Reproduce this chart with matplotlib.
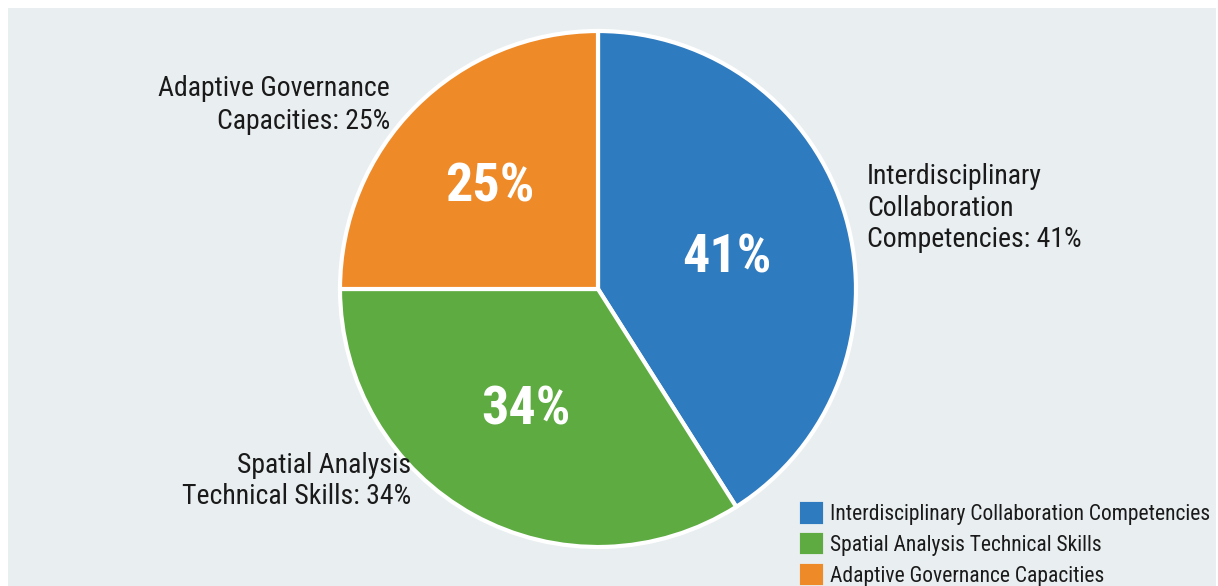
import matplotlib.pyplot as plt
from matplotlib.patches import Rectangle

categories = ['Interdisciplinary Collaboration Competencies',
              'Spatial Analysis Technical Skills',
              'Adaptive Governance Capacities']
outer_names = ['Interdisciplinary\nCollaboration\nCompetencies',
               'Spatial Analysis\nTechnical Skills',
               'Adaptive Governance\nCapacities']
values = [41, 34, 25]
colors = ['#2f7bbf', '#5dab41', '#ef8a28']

W, H = 1218, 586
fig = plt.figure(figsize=(W / 100, H / 100), dpi=100)
fig.patch.set_facecolor('white')

ax = fig.add_axes([0, 0, 1, 1])

font = ['Roboto Condensed', 'Liberation Sans']

wedges, _ = ax.pie(values, colors=colors, startangle=90, counterclock=False,
                   center=(598, H - 289), radius=258,
                   wedgeprops=dict(edgecolor='white', linewidth=3))

# pie() resets the limits, so set the pixel-like frame afterwards
ax.set_xlim(0, W)
ax.set_ylim(0, H)
ax.set_aspect('equal')
ax.axis('off')

# grey panel with a thin white border on top / left / right
ax.add_patch(Rectangle((8, 0), W - 10, H - 8, facecolor='#e9eef0',
                       edgecolor='none', zorder=0))

# percentages inside the wedges
inner_pos = [(727, 258), (526, 410), (490, 187)]
for (x, y), v in zip(inner_pos, values):
    ax.text(x, H - y, f'{v}%', color='white', fontsize=39, fontweight='bold',
            ha='center', va='center', family=font)

# outer labels
ax.text(867, H - 208, f'{outer_names[0]}: {values[0]}%', fontsize=20,
        ha='left', va='center', linespacing=1.2, family=font, color='#1a1a1a')
ax.text(411, H - 481, f'{outer_names[1]}: {values[1]}%', fontsize=20,
        ha='right', va='center', linespacing=1.2, family=font, color='#1a1a1a')
ax.text(390, H - 105, f'{outer_names[2]}: {values[2]}%', fontsize=20,
        ha='right', va='center', linespacing=1.25, family=font, color='#1a1a1a')

leg = ax.legend(wedges, categories, loc='upper left',
                bbox_to_anchor=(783 / W, 1 - 485 / H), frameon=False,
                handlelength=0.85, handleheight=0.85, handletextpad=0.45,
                labelspacing=0.46, prop={'family': font, 'size': 15.5})
for t in leg.get_texts():
    t.set_color('#1a1a1a')
for h in leg.legend_handles:
    h.set_edgecolor(h.get_facecolor())

fig.savefig('out.png', dpi=100)
